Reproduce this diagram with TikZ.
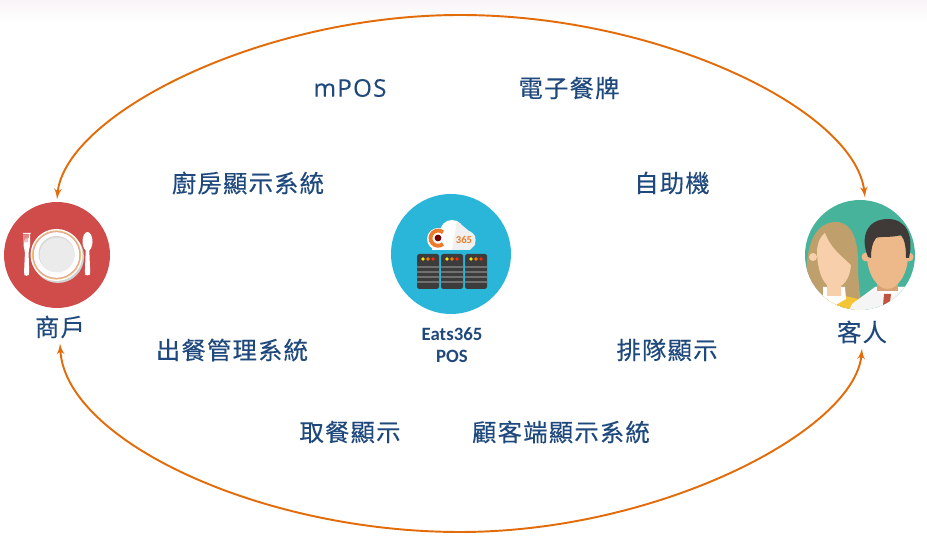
\documentclass[tikz,border=0pt]{standalone}
\usepackage{fontspec}
\usetikzlibrary{arrows}
\newfontfamily\cjkfont[LetterSpace=5,FakeBold=0.25]{Noto Sans CJK TC}
\newfontfamily\latinfont[LetterSpace=5,FakeBold=0.2]{Open Sans}
\newfontfamily\posfont{Carlito}
\definecolor{labelblue}{HTML}{1F497D}
\definecolor{flowline}{HTML}{E36C0A}
\definecolor{platered}{HTML}{D04C4B}
\definecolor{serverblue}{HTML}{29B6D8}
\definecolor{guestgreen}{HTML}{47B39B}
\definecolor{rackgrey}{HTML}{3C3C3C}
\definecolor{stripegrey}{HTML}{707070}
\definecolor{topband}{HTML}{F8F4F7}
\definecolor{ringorange}{HTML}{EBC27A}
\definecolor{ringpink}{HTML}{E39A9A}
\definecolor{swirl}{HTML}{EE7B2B}
\definecolor{herhair}{HTML}{BF9F6C}
\definecolor{herskin}{HTML}{F8CFAB}
\definecolor{hertop}{HTML}{F4C534}
\definecolor{hishair}{HTML}{3F3A38}
\definecolor{hisskin}{HTML}{EDB98A}
\definecolor{hisneck}{HTML}{D9A274}
\definecolor{histie}{HTML}{C0553F}
\begin{document}
\begin{tikzpicture}[x=0.02cm,y=-0.02cm]
    \tikzset{caption/.style={inner sep=0pt, text=labelblue, font=\fontsize{13.85}{16}\selectfont\cjkfont}}
    \tikzset{endlabel/.style={caption, outer sep=3pt}}
    \tikzset{postext/.style={inner sep=0pt, text=labelblue, font=\fontsize{10.7}{12}\selectfont\posfont\bfseries}}
    \tikzset{disc/.style={circle, inner sep=0pt, outer sep=1.5pt}}
    \tikzset{flow/.style={draw=flowline, line width=1.1pt, latex'-latex'}}
    \useasboundingbox (0,0) rectangle (927,543);
    \shade[top color=topband, bottom color=white] (0,0) rectangle (927,22);

    \node[disc, fill=platered, minimum size=2.12cm] (plate) at (57,255) {};
    \node[disc, fill=serverblue, minimum size=2.4cm] (server) at (451,254) {};
    \node[disc, fill=guestgreen, minimum size=2.2cm] (guest) at (860,255) {};

    \node[endlabel] (merchant) at (60,327) {商戶};
    \node[endlabel] (customer) at (862,332) {客人};
    \node[postext] (eats) at (452,334) {Eats365};
    \node[postext] (pos) at (452,356) {POS};

    \node[inner sep=0pt, text=labelblue, font=\fontsize{13.8}{16}\selectfont\latinfont] (mpos) at (350,88) {mPOS};
    \node[caption] (signage) at (569,88) {電子餐牌};
    \node[caption] (kitchen) at (248,183) {廚房顯示系統};
    \node[caption] (kiosk) at (672,183) {自助機};
    \node[caption] (dispatch) at (232,350) {出餐管理系統};
    \node[caption] (queue) at (667,350) {排隊顯示};
    \node[caption] (pickup) at (350,432) {取餐顯示};
    \node[caption] (facing) at (561,432) {顧客端顯示系統};

    \coordinate (topmid) at (460,15);
    \coordinate (botmid) at (460,532);
    \draw[flow] (plate.north) .. controls (65,115) and (260,15) .. (topmid)
        .. controls (660,15) and (855,110) .. (guest.85);
    \draw[flow] (merchant.south) .. controls (65,440) and (260,532) .. (botmid)
        .. controls (660,532) and (855,430) .. (customer.south);

    % plate and cutlery
    \fill[black!18] (58,257) circle (26);
    \fill[white] (56.5,255) circle (26);
    \fill[ringorange] (56.5,255) circle (24.6);
    \fill[ringpink] (56.5,255) circle (23.6);
    \fill[white] (56.5,255) circle (22.8);
    \fill[black!16] (56.5,254) circle (18);
    \fill[black!8] (57,255) circle (17.5);
    \fill[white, rounded corners=1pt] (23.5,233) -- (24.3,233) -- (24.6,244) -- (25.4,244) -- (25.6,233) -- (26.4,233) -- (26.6,244) -- (27.4,244) -- (27.6,233) -- (28.4,233) -- (28.6,244) -- (29.3,233) -- (30,233) -- (30,247) -- (28.5,251) -- (29.3,274) -- (28,276) -- (25,276) -- (24,274) -- (25,251) -- (23.5,247) -- cycle;
    \fill[white] (87.5,241.5) ellipse (5 and 9.5);
    \fill[white, rounded corners=1pt] (85.8,248) -- (89.2,248) -- (90.3,274) -- (89,275.5) -- (86,275.5) -- (84.8,274) -- cycle;

    % cloud and racks
    \fill[white] (438,239) circle (11) (452,232) circle (12) (466,240) circle (9.5);
    \fill[white] (432,240) rectangle (470,250);
    \fill[black!6] (457,221) -- (475,236) -- (475,245) -- (470,250) -- (452,250) -- cycle;
    \draw[swirl, line width=2.2pt] (443,244) arc (50:310:7.6);
    \fill[black!55!red] (438,238) circle (3.4);
    \node[inner sep=0pt, text=swirl, font=\fontsize{6}{7}\selectfont\posfont\bfseries] (cloudnum) at (464,240) {365};
    \foreach \rx in {417,441,465} {
      \fill[rackgrey, rounded corners=1pt] (\rx,254) rectangle ++(22,35);
      \foreach \ry in {266,271,276,281} {
        \fill[stripegrey] (\rx,\ry) rectangle ++(22,1.8);
      }
      \fill[yellow!90!orange] (\rx+6,259) circle (1.8);
      \fill[orange] (\rx+11,259) circle (1.8);
      \fill[red!70!orange] (\rx+16,259) circle (1.8);
    }

    % two faces, kept inside the disc
    \begin{scope}
      \clip (860,255) circle (55);
      \fill[herhair] (807,295) .. controls (803,245) and (815,222) .. (836,222)
          .. controls (852,222) and (858,240) .. (858,262) .. controls (858,285) and (860,295) .. (862,305) -- (807,315) -- cycle;
      \fill[hertop] (815,310) -- (822,296) -- (845,296) -- (862,300) -- (868,325) -- (815,325) -- cycle;
      \fill[white] (823,287) -- (845,287) -- (846,299) -- (834,306) -- (823,299) -- cycle;
      \fill[herskin] (827,280) rectangle (841,296);
      \fill[herskin] (813,257) circle (4);
      \fill[herskin] (817,250) .. controls (818,240) and (822,235) .. (825,233)
          .. controls (830,247) and (840,255) .. (851,265) .. controls (850,280) and (842,288) .. (834,288)
          .. controls (824,288) and (817,272) .. (817,250) -- cycle;
      \fill[black!4] (845,320) -- (852,304) -- (875,287) -- (905,287) -- (920,300) -- (920,325) -- cycle;
      \fill[black!12] (905,287) -- (920,296) -- (905,307) -- cycle;
      \fill[white] (875,287) -- (883,297) -- (893,296) -- (905,287) -- cycle;
      \fill[hisneck] (877,270) rectangle (898,291);
      \fill[histie] (884,294) -- (891,294) -- (890,302) -- (883,306) -- cycle;
      \fill[hisskin] (866,257) circle (4.5) (909,257) circle (4.5);
      \fill[hisskin] (867,245) .. controls (867,230) and (908,230) .. (908,245) -- (908,255)
          .. controls (908,275) and (897,289) .. (887.5,289)
          .. controls (878,289) and (867,275) .. (867,255) -- cycle;
      \fill[hishair] (868,257) .. controls (860,238) and (866,219) .. (888,219)
          .. controls (906,219) and (914,235) .. (909,258) -- (906,258)
          .. controls (906,248) and (905,240) .. (901,235)
          .. controls (892,238) and (880,236) .. (876,238)
          .. controls (872,243) and (871,250) .. (871,258) -- cycle;
    \end{scope}
\end{tikzpicture}
\end{document}
